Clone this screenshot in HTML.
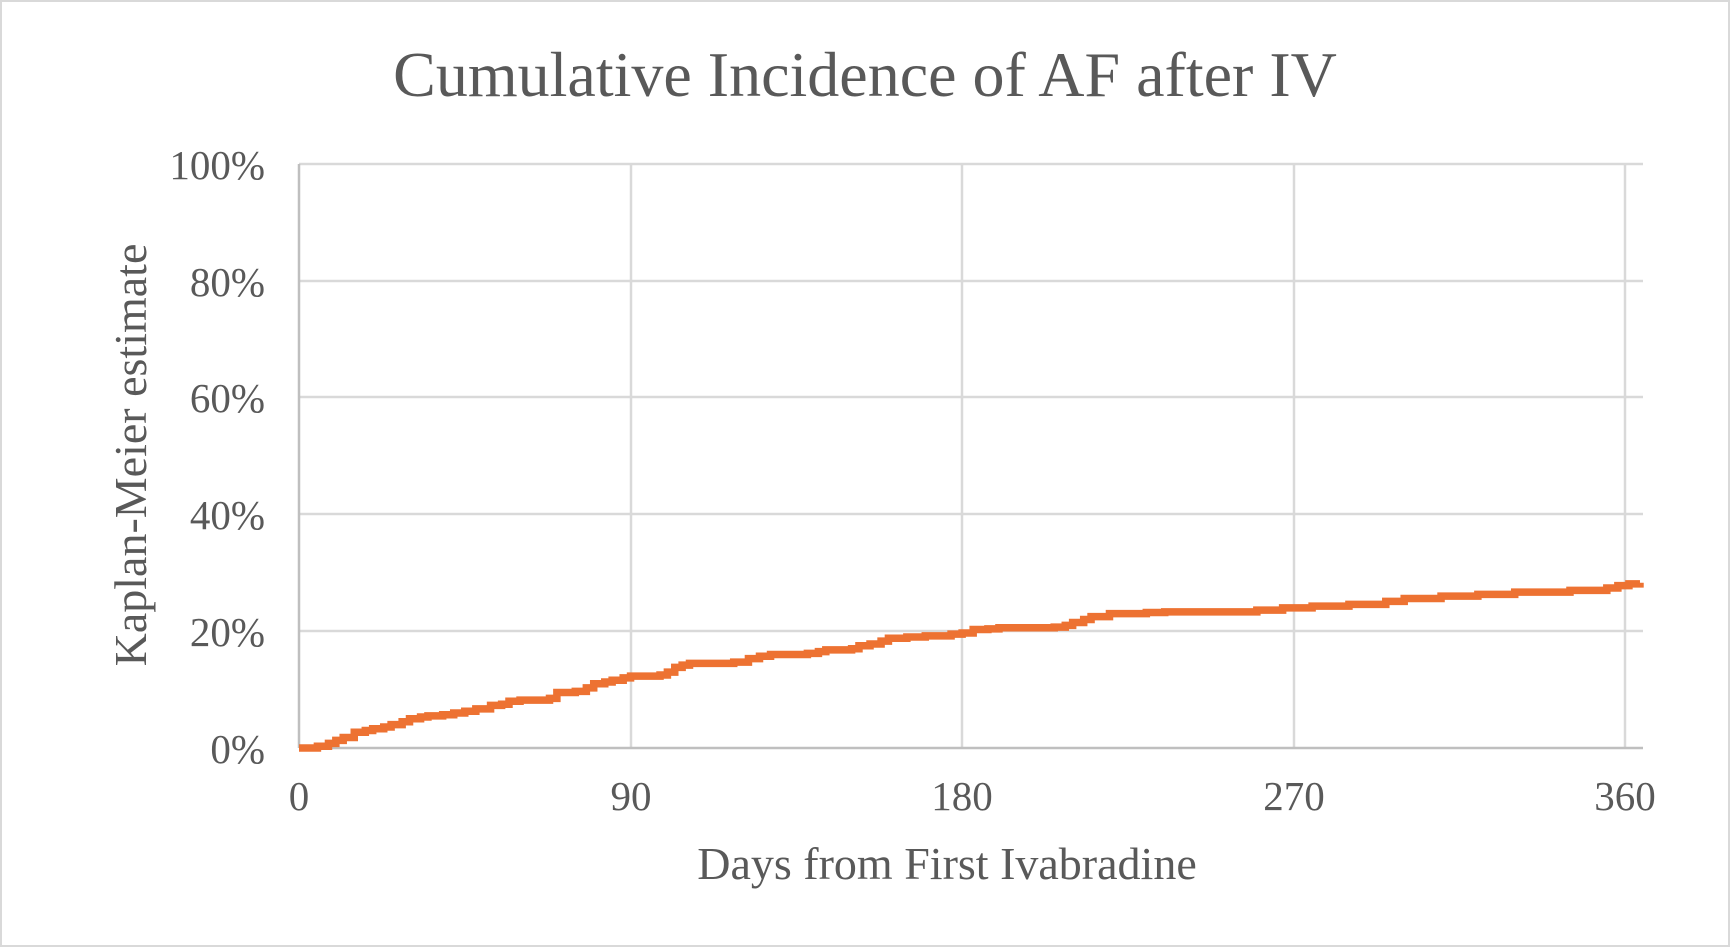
<!DOCTYPE html>
<html><head><meta charset="utf-8"><style>
html,body{margin:0;padding:0;background:#fff}
svg{display:block}
text{font-family:"Liberation Serif",serif;fill:#595959}
</style></head><body>
<svg id="s" width="1730" height="947" viewBox="0 0 1730 947" xmlns="http://www.w3.org/2000/svg">
<rect x="1" y="1" width="1728" height="945" fill="#fff" stroke="#d9d9d9" stroke-width="2"/>
<text x="865" y="96" font-size="64" text-anchor="middle">Cumulative Incidence of AF after IV</text>
<g stroke="#d9d9d9" stroke-width="2.5">
<line x1="299" y1="164" x2="1643" y2="164"/>
<line x1="299" y1="281" x2="1643" y2="281"/>
<line x1="299" y1="397" x2="1643" y2="397"/>
<line x1="299" y1="514" x2="1643" y2="514"/>
<line x1="299" y1="631" x2="1643" y2="631"/>
<line x1="631" y1="164" x2="631" y2="748"/>
<line x1="962" y1="164" x2="962" y2="748"/>
<line x1="1294" y1="164" x2="1294" y2="748"/>
<line x1="1625" y1="164" x2="1625" y2="748"/>
</g>
<g stroke="#bfbfbf" stroke-width="2.5">
<line x1="299" y1="164" x2="299" y2="748"/>
<line x1="299" y1="748" x2="1643" y2="748"/>
</g>
<g font-size="41" text-anchor="end">
<text x="265" y="179">100%</text>
<text x="265" y="296">80%</text>
<text x="265" y="412">60%</text>
<text x="265" y="529">40%</text>
<text x="265" y="646">20%</text>
<text x="265" y="763">0%</text>
</g>
<g font-size="41" text-anchor="middle">
<text x="299" y="810">0</text>
<text x="631" y="810">90</text>
<text x="962" y="810">180</text>
<text x="1294" y="810">270</text>
<text x="1625" y="810">360</text>
</g>
<text x="947" y="879" font-size="46" text-anchor="middle">Days from First Ivabradine</text>
<text transform="translate(146,455) rotate(-90)" font-size="46" text-anchor="middle">Kaplan-Meier estimate</text>
<path id="c" fill="none" stroke="#ed7232" stroke-width="7.5" stroke-linejoin="miter"/>
</svg>
<script>
var d=[[0,0],[5,0.3],[8,0.8],[10,1.3],[12,1.8],[15,2.7],[18,3],[20,3.3],[23,3.6],[25,4],[28,4.5],[30,5],[33,5.3],[35,5.5],[39,5.7],[42,6],[45,6.3],[48,6.7],[52,7.3],[55,7.5],[57,8],[60,8.2],[68,8.5],[70,9.5],[75,9.7],[78,10.3],[80,11],[83,11.3],[85,11.6],[88,12],[90,12.3],[98,12.5],[100,13],[102,13.8],[104,14.2],[106,14.5],[118,14.7],[122,15.3],[125,15.7],[128,16],[138,16.2],[141,16.5],[143,16.8],[150,17],[152,17.5],[155,17.8],[158,18.3],[160,18.8],[165,19],[170,19.2],[177,19.5],[180,19.7],[183,20.3],[187,20.4],[190,20.6],[205,20.7],[208,21],[210,21.5],[213,22],[215,22.5],[220,23],[230,23.2],[235,23.3],[260,23.6],[267,24],[275,24.3],[285,24.6],[295,25.1],[300,25.6],[310,26],[320,26.3],[330,26.7],[345,27],[355,27.4],[358,27.8],[361,28.1],[364,28.3]];
var p="";
d.forEach(function(q,i){var X=299+q[0]*3.684,Y=748-q[1]*5.84;
if(i==0)p="M"+X+" "+Y;else p+=" H"+X+" V"+Y;});
document.getElementById("c").setAttribute("d",p);
</script>
</body></html>
